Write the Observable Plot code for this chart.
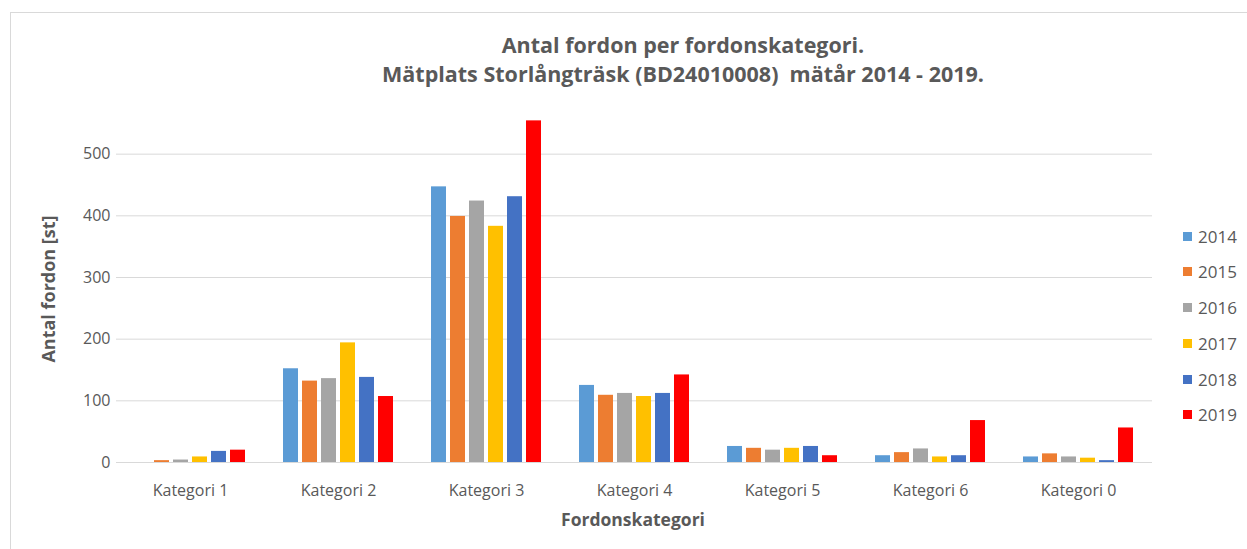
<!DOCTYPE html>
<html>
<head>
<meta charset="utf-8">
<script src="https://cdn.jsdelivr.net/npm/d3@7"></script>
<script src="https://cdn.jsdelivr.net/npm/@observablehq/plot@0.6"></script>
<style>
  html, body { margin: 0; padding: 0; background: #fff; }
  #wrap { position: relative; width: 1247px; height: 549px; overflow: hidden; font-family: "Open Sans", "Liberation Sans", sans-serif; color: #595959; }
  #frame { position: absolute; left: 10px; top: 12px; width: 1245px; height: 545px; border: 1px solid #d9d9d9; box-sizing: border-box; }
  #title { position: absolute; left: 119px; width: 1128px; top: 30px; text-align: center; font-weight: bold; font-size: 21.5px; line-height: 29px; color: #595959; }
  #chart { position: absolute; left: 0; top: 80px; }
  #ytitle { position: absolute; left: 48px; top: 289px; transform: translate(-50%, -50%) rotate(-90deg); font-weight: bold; font-size: 18px; white-space: nowrap; }
  #xtitle { position: absolute; left: 633px; top: 519px; transform: translate(-50%, -50%); font-weight: bold; font-size: 17.5px; white-space: nowrap; }
  #legend { position: absolute; left: 1183px; top: 225px; }
  .li { display: flex; align-items: center; font-size: 17px; height: 22px; margin-bottom: 13.8px; }
  .sw { width: 9px; height: 9px; margin-right: 6px; }
</style>
</head>
<body>
<div id="wrap">
  <div id="frame"></div>
  <div id="title">Antal fordon per fordonskategori.<br>Mätplats Storlångträsk (BD24010008)&nbsp; mätår 2014 - 2019.</div>
  <div id="chart"></div>
  <div id="ytitle">Antal fordon [st]</div>
  <div id="xtitle">Fordonskategori</div>
  <div id="legend"></div>
</div>
<script>
const categories = ["Kategori 1", "Kategori 2", "Kategori 3", "Kategori 4", "Kategori 5", "Kategori 6", "Kategori 0"];
const years = ["2014", "2015", "2016", "2017", "2018", "2019"];
const v2014 = [0, 152, 447, 125, 26, 11, 9];
const v2015 = [3, 132, 399, 109, 23, 16, 14];
const v2016 = [4, 136, 424, 112, 20, 22, 9];
const v2017 = [9, 194, 383, 107, 23, 9, 7];
const v2018 = [18, 138, 431, 112, 26, 11, 3];
const v2019 = [20, 107, 554, 142, 11, 68, 56];
const yTicks = [0, 100, 200, 300, 400, 500];
const colors = ["#5B9BD5", "#ED7D31", "#A5A5A5", "#FFC000", "#4472C4", "#FF0000"];

const series = [v2014, v2015, v2016, v2017, v2018, v2019];
const data = [];
categories.forEach((c, i) => {
  years.forEach((y, j) => data.push({category: c, year: y, value: series[j][i]}));
});

const chart = Plot.plot({
  width: 1247,
  height: 460,
  marginLeft: 115,
  marginRight: 94,
  marginTop: 12,
  marginBottom: 78,
  style: {fontFamily: '"Open Sans", "Liberation Sans", sans-serif', fontSize: "16px", color: "#595959", background: "transparent"},
  facet: {data, x: "category"},
  fx: {domain: categories, padding: 0, axis: "bottom", label: null, tickSize: 0, tickPadding: 22},
  x: {domain: years, axis: null, paddingInner: 0.19, paddingOuter: 0.975},
  y: {domain: [0, 600], ticks: yTicks, tickSize: 0, tickPadding: 6, label: null},
  color: {domain: years, range: colors},
  marks: [
    Plot.ruleY(yTicks, {stroke: "#d9d9d9", strokeWidth: 1}),
    Plot.barY(data, {x: "year", y: "value", fill: "year"})
  ]
});
document.getElementById("chart").appendChild(chart);

const legend = document.getElementById("legend");
years.forEach((y, i) => {
  const row = document.createElement("div");
  row.className = "li";
  row.innerHTML = `<div class="sw" style="background:${colors[i]}"></div><span>${y}</span>`;
  legend.appendChild(row);
});
</script>
</body>
</html>
